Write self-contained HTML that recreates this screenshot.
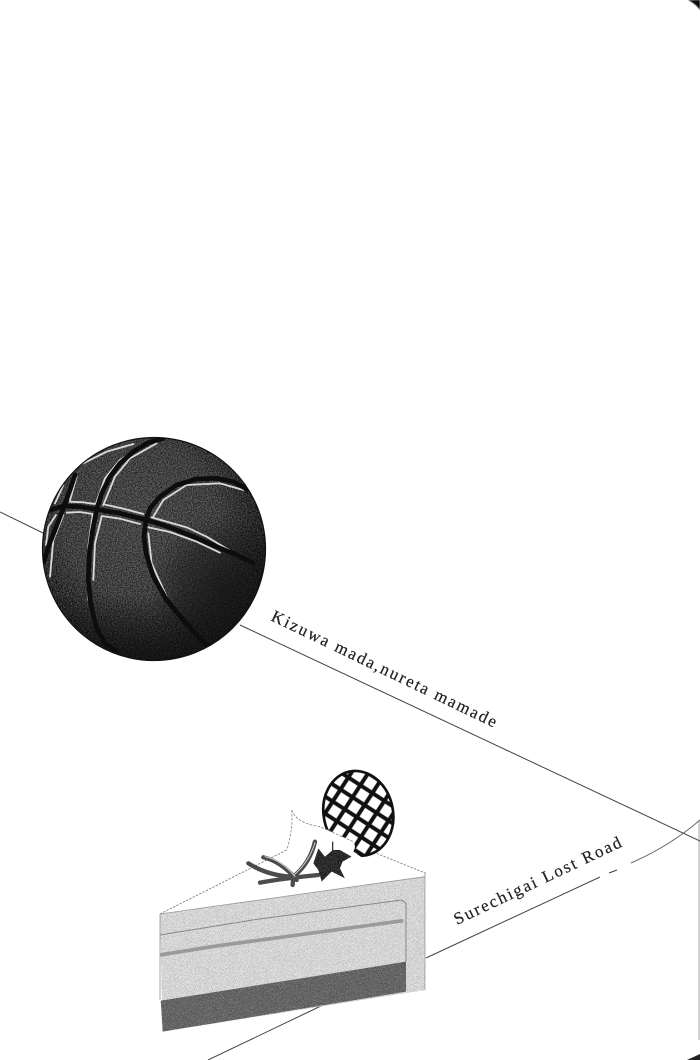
<!DOCTYPE html>
<html>
<head>
<meta charset="utf-8">
<style>
html,body{margin:0;padding:0;background:#fff;width:700px;height:1060px;overflow:hidden}
svg{display:block}
text{font-family:"Liberation Serif",serif;fill:#222;stroke:#222;stroke-width:.2}
</style>
</head>
<body>
<svg width="700" height="1060" viewBox="0 0 700 1060" xmlns="http://www.w3.org/2000/svg">
<defs>
  <radialGradient id="ball" gradientUnits="userSpaceOnUse" cx="140" cy="520" r="140">
    <stop offset="0" stop-color="#474747"/>
    <stop offset=".55" stop-color="#404040"/>
    <stop offset=".8" stop-color="#2a2a2a"/>
    <stop offset="1" stop-color="#161616"/>
  </radialGradient>
  <radialGradient id="shade" gradientUnits="userSpaceOnUse" cx="225" cy="590" r="75">
    <stop offset="0" stop-color="#141414" stop-opacity=".75"/>
    <stop offset=".6" stop-color="#141414" stop-opacity=".45"/>
    <stop offset="1" stop-color="#141414" stop-opacity="0"/>
  </radialGradient>
  <linearGradient id="bottomShade" x1="0" y1="0" x2="0" y2="1">
    <stop offset=".7" stop-color="#141414" stop-opacity="0"/>
    <stop offset="1" stop-color="#141414" stop-opacity=".7"/>
  </linearGradient>
  <filter id="grain" x="0" y="0" width="100%" height="100%" color-interpolation-filters="sRGB">
    <feTurbulence type="fractalNoise" baseFrequency=".8" numOctaves="2" seed="4" result="n"/>
    <feColorMatrix in="n" values="2.6 0 0 0 -.8  2.6 0 0 0 -.8  2.6 0 0 0 -.8  0 0 0 0 1" result="c"/>
    <feComposite in="SourceGraphic" in2="c" operator="arithmetic" k1="0" k2="1" k3=".25" k4="-.125" result="m"/>
    <feComposite in="m" in2="SourceGraphic" operator="in"/>
  </filter>
  <filter id="soft"><feGaussianBlur stdDeviation=".45"/></filter>
  <pattern id="lat" width="43" height="43" patternUnits="userSpaceOnUse" patternTransform="translate(10 18) rotate(45)">
    <rect width="43" height="43" fill="#fff"/>
    <path d="M0 21.5H43M21.5 0V43" stroke="#111" stroke-width="12" fill="none"/>
  </pattern>
  <clipPath id="ballClip"><circle cx="154" cy="549" r="111.5"/></clipPath>
</defs>

<!-- page edge and corners -->
<path d="M699 820V1040" stroke="#aaa" stroke-width="1" fill="none"/>
<path d="M698.5 990V1045" stroke="#555" stroke-width="1.4" fill="none" filter="url(#soft)"/>
<path d="M687 1060L700 1054V1060Z" fill="#222"/>
<path d="M688 0H700V10Q696 4 688 0Z" fill="#111" filter="url(#soft)"/>

<!-- connector lines -->
<g fill="none" stroke="#444" stroke-width="1">
  <path d="M0 512L43 533"/>
  <path d="M240 625L700 841"/>
  <path d="M208 1060L323 1005"/>
  <path d="M426 958L600 877"/>
  <path d="M609 873L617 870"/>
  <path d="M631 863Q670 846 700 820" stroke="#666"/>
</g>

<!-- basketball -->
<circle cx="154" cy="549" r="111.5" fill="url(#ball)" filter="url(#grain)"/>
<circle cx="154" cy="549" r="111.5" fill="url(#shade)"/>
<circle cx="154" cy="549" r="111.5" fill="url(#bottomShade)"/>
<g clip-path="url(#ballClip)">
  <g transform="translate(20 420) scale(.3333)" fill="none" stroke-linecap="round" stroke-linejoin="round" filter="url(#soft)">
    <g stroke="#d8d8d8" stroke-width="5.5">
      <polyline points="150,245 190,247 225,252"/>
      <polyline points="255,254 310,266 370,282"/>
      <polyline points="140,278 180,276 218,282"/>
      <polyline points="245,288 300,296 360,312"/>
      <polyline points="395,292 500,322 560,350 630,392"/>
      <polyline points="385,322 450,336 530,365 600,398"/>
      <polyline points="400,290 430,240 500,195 600,190 670,210"/>
      <polyline points="228,250 255,175 300,120 385,65"/>
      <polyline points="190,130 260,95 340,72"/>
      <polyline points="250,255 285,170 330,115 410,70"/>
      <polyline points="218,285 205,380 205,540"/>
      <polyline points="245,290 225,370 220,480"/>
      <polyline points="385,340 395,430 440,530"/>
      <polyline points="170,170 150,240"/>
      <polyline points="130,195 105,250"/>
      <polyline points="130,285 100,360 90,470"/>
      <polyline points="108,285 85,320 78,375"/>
    </g>
    <g stroke="#0a0a0a" stroke-width="14">
      <polyline points="85,272 130,258 180,260 230,268 300,280 380,300 450,322 520,350 590,380 650,405 700,430"/>
      <polyline points="430,55 385,68 340,95 300,130 270,170 245,220 230,268 218,330 208,400 205,480 212,550 228,620 255,670 290,695"/>
      <polyline points="165,165 150,210 130,265 105,330 85,380 72,425"/>
      <polyline points="682,208 640,185 590,175 530,177 470,195 420,230 390,265 378,300 372,350 378,400 400,470 440,540 490,600 530,645 565,680"/>
    </g>
  </g>
</g>
<circle cx="154" cy="549" r="111.5" fill="none" stroke="#111" stroke-width="1.2"/>

<!-- titles -->
<text transform="translate(270 620) rotate(25.7)" font-size="17" letter-spacing="1.9">Kizuwa mada,nureta mamade</text>
<text transform="translate(457 925) rotate(-25.4)" font-size="17" letter-spacing="1.9">Surechigai Lost Road</text>

<!-- cake -->
<g transform="translate(150 760) scale(.3333)">
  <path d="M30 462L410 270M680 280L828 340" fill="none" stroke="#777" stroke-width="2.5" stroke-dasharray="7 4"/>
  <path d="M30 462L825 350V690L38 815Z" fill="#d4d4d4" filter="url(#grain)"/>
  <path d="M30 462L825 350M30 462V720M825 340V690" fill="none" stroke="#999" stroke-width="2.5"/>
  <path d="M30 525L320 478L755 420L768 430V605" fill="none" stroke="#888" stroke-width="3"/>
  <path d="M30 585L200 558L760 482" fill="none" stroke="#9a9a9a" stroke-width="11"/>
  <path d="M32 722L768 605V695L38 815Z" fill="#656565" filter="url(#grain)"/>
  <!-- lattice -->
  <ellipse cx="625" cy="160" rx="104" ry="128" transform="rotate(-12 625 160)" fill="url(#lat)" stroke="#111" stroke-width="8"/>
  <!-- wedge -->
  <path d="M425 150Q440 190 510 200L610 245Q620 260 610 275L640 295L600 325L470 330Q420 325 410 270Q430 210 425 150Z" fill="#fff"/>
  <path d="M425 150Q440 190 510 200L610 245M425 150Q430 210 410 270" fill="none" stroke="#888" stroke-width="2.5" stroke-dasharray="8 4"/>
  <!-- sticks -->
  <g fill="none" stroke="#4c4c4c" stroke-width="13" stroke-linecap="round">
    <path d="M340 292Q395 305 440 360"/>
    <path d="M295 310Q350 345 420 350"/>
    <path d="M330 368Q400 355 505 345"/>
    <path d="M495 245Q480 310 430 350L428 375"/>
  </g>
  <g fill="none" stroke="#e0e0e0" stroke-width="2.5" stroke-linecap="round">
    <path d="M345 290Q395 300 435 350"/>
    <path d="M495 248Q478 305 432 345"/>
  </g>
  <!-- leaf cluster -->
  <path d="M505 265L525 290L548 270L570 270L605 290L578 305L570 325L585 355L545 335L515 365L505 330L490 310Z" fill="#2b2b2b" filter="url(#grain)"/>
  <path d="M548 245L548 280" stroke="#333" stroke-width="4"/>
</g>
</svg>
</body>
</html>
